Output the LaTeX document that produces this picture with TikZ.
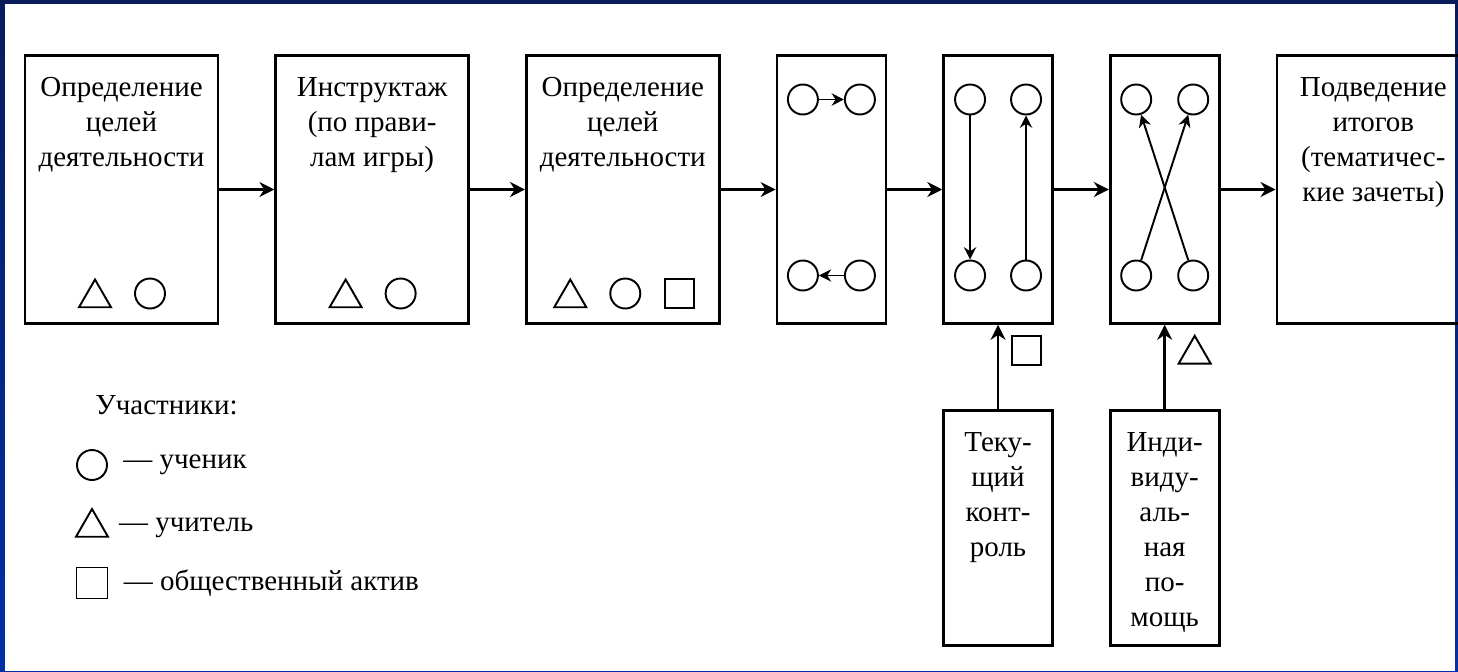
\documentclass[tikz,border=0pt]{standalone}
\usepackage{fontspec}
\setmainfont{Liberation Serif}
\usepackage{xcolor}
\usepackage{tikz}
\usetikzlibrary{shapes.geometric, arrows.meta, positioning}

\definecolor{frametop}{RGB}{8,28,92}
\definecolor{framebot}{RGB}{0,48,168}

\begin{document}
\begin{tikzpicture}[
    node distance=1.1cm,
    box/.style={rectangle, draw, line width=1.5pt, minimum width=3.86cm, minimum height=5.36cm},
    thinbox/.style={box, minimum width=2.18cm},
    caption/.style={align=center, font=\fontsize{16.5}{20}\selectfont, inner sep=0pt},
    pupil/.style={circle, draw, line width=1.1pt, minimum size=0.6cm, inner sep=0pt},
    teacher/.style={regular polygon, regular polygon sides=3, draw, line width=1.1pt, minimum size=0.74cm, inner sep=0pt, yshift=-0.09cm},
    activist/.style={rectangle, draw, line width=1.1pt, minimum size=0.58cm, inner sep=0pt},
    arrow/.style={->, >={Stealth[length=8.5pt, width=8.5pt]}, line width=1.5pt},
    pass/.style={->, >={Stealth[length=7pt, width=7pt]}, line width=1.1pt}
]

\useasboundingbox (0,0) rectangle (29.16,-13.42);
\shade[top color=frametop, bottom color=framebot] (0,0) rectangle (29.16,-13.42);
\fill[white] (0.1,-0.08) rectangle (29.09,-13.42);

\node[box] (goal1) at (2.43,-3.79) {};
\node[box, right=of goal1] (brief) {};
\node[box, right=of brief] (goal2) {};
\node[thinbox, right=of goal2] (pairs) {};
\node[thinbox, right=of pairs] (rows) {};
\node[thinbox, right=of rows] (cross) {};
\node[box, right=of cross] (summary) {};

\node[caption, below=0.45cm of goal1.north] {Определение\\целей\\деятельности};
\node[caption, below=0.45cm of brief.north] {Инструктаж\\(по прави-\\лам игры)};
\node[caption, below=0.45cm of goal2.north] {Определение\\целей\\деятельности};
\node[caption, below=0.45cm of summary.north] {Подведение\\итогов\\(тематичес-\\кие зачеты)};

\node[teacher] (t1) at ([xshift=-0.53cm, yshift=-2.08cm]goal1.center) {};
\node[pupil] (s1) at ([xshift=0.57cm, yshift=-2.08cm]goal1.center) {};
\node[teacher] (t2) at ([xshift=-0.53cm, yshift=-2.08cm]brief.center) {};
\node[pupil] (s2) at ([xshift=0.57cm, yshift=-2.08cm]brief.center) {};
\node[teacher] (t3) at ([xshift=-1.05cm, yshift=-2.08cm]goal2.center) {};
\node[pupil] (s3) at ([xshift=0.05cm, yshift=-2.08cm]goal2.center) {};
\node[activist] (a3) at ([xshift=1.14cm, yshift=-2.08cm]goal2.center) {};

\node[pupil] (pa1) at ([xshift=-0.57cm, yshift=1.8cm]pairs.center) {};
\node[pupil] (pa2) at ([xshift=0.57cm, yshift=1.8cm]pairs.center) {};
\node[pupil] (pb1) at ([xshift=-0.57cm, yshift=-1.72cm]pairs.center) {};
\node[pupil] (pb2) at ([xshift=0.57cm, yshift=-1.72cm]pairs.center) {};
\draw[pass] (pa1) -- (pa2);
\draw[pass] (pb2) -- (pb1);

\node[pupil] (ra1) at ([xshift=-0.56cm, yshift=1.8cm]rows.center) {};
\node[pupil] (ra2) at ([xshift=0.56cm, yshift=1.8cm]rows.center) {};
\node[pupil] (rb1) at ([xshift=-0.56cm, yshift=-1.72cm]rows.center) {};
\node[pupil] (rb2) at ([xshift=0.56cm, yshift=-1.72cm]rows.center) {};
\draw[pass] (ra1) -- (rb1);
\draw[pass] (rb2) -- (ra2);

\node[pupil] (ca1) at ([xshift=-0.57cm, yshift=1.8cm]cross.center) {};
\node[pupil] (ca2) at ([xshift=0.57cm, yshift=1.8cm]cross.center) {};
\node[pupil] (cb1) at ([xshift=-0.57cm, yshift=-1.72cm]cross.center) {};
\node[pupil] (cb2) at ([xshift=0.57cm, yshift=-1.72cm]cross.center) {};
\draw[pass] (cb1) -- (ca2);
\draw[pass] (cb2) -- (ca1);

\node[thinbox, minimum height=4.7cm, below=1.69cm of rows] (control) {};
\node[thinbox, minimum height=4.7cm, below=1.69cm of cross] (help) {};
\node[caption, below=0.45cm of control.north] {Теку-\\щий\\конт-\\роль};
\node[caption, below=0.45cm of help.north] {Инди-\\виду-\\аль-\\ная\\по-\\мощь};

\node[activist] (a5) at ([xshift=0.56cm, yshift=-0.52cm]rows.south) {};
\node[teacher] (t6) at ([xshift=0.6cm, yshift=-0.5cm]cross.south) {};

\draw[arrow] (goal1) -- (brief);
\draw[arrow] (brief) -- (goal2);
\draw[arrow] (goal2) -- (pairs);
\draw[arrow] (pairs) -- (rows);
\draw[arrow] (rows) -- (cross);
\draw[arrow] (cross) -- (summary);
\draw[arrow] (control) -- (rows);
\draw[arrow] (help) -- (cross);

\node[caption, anchor=west] (legend) at (1.9,-8.1) {Участники:};
\node[pupil] (legpupil) at (1.84,-9.3) {};
\node[teacher] (legteacher) at (1.84,-10.46) {};
\node[activist, minimum size=0.62cm] (legactive) at (1.84,-11.66) {};
\node[caption, right=0.3cm of legpupil] {— ученик};
\node[caption, right=0.3cm of legteacher] {— учитель};
\node[caption, right=0.3cm of legactive] {— общественный актив};

\end{tikzpicture}
\end{document}
